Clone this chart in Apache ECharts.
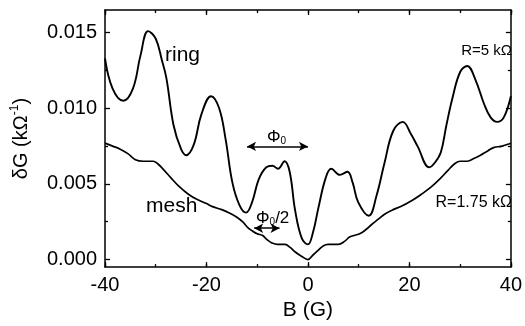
<!DOCTYPE html>
<html>
<head>
<meta charset="utf-8">
<script src="https://cdn.jsdelivr.net/npm/echarts@6/dist/echarts.min.js"></script>
<style>
  html, body { margin: 0; padding: 0; background: #fff; }
  #chart { width: 525px; height: 326px; }
</style>
</head>
<body>
<div id="chart"></div>
<script>
// Conductance oscillation delta-G versus magnetic field B
const ringB = [-40, -38.5, -36.4, -34.5, -33, -31.5, -30, -28.8, -27.9, -26.5, -25, -24, -22.5, -21, -19.1, -17.5, -16.2, -14.9, -13.5, -12.2, -11, -9.7, -8.2, -7, -5.9, -4.6, -3.6, -2.5, -1.2, 0, 1, 2.05, 3.5, 4.6, 6.3, 7.8, 8.8, 9.9, 12, 13.5, 15.1, 16.8, 18.7, 20.3, 21.6, 23.9, 25, 26.2, 27.3, 28.5, 30, 31.4, 33, 34.7, 36, 37.3, 38.6, 40];
const ringG = [0.0133, 0.0113, 0.0105, 0.0113, 0.0135, 0.0151, 0.0146, 0.0132, 0.0120, 0.0089, 0.0073, 0.0069, 0.0076, 0.0096, 0.0108, 0.0100, 0.0079, 0.0051, 0.0036, 0.0031, 0.0038, 0.0053, 0.0061, 0.0062, 0.0060, 0.0065, 0.0058, 0.0032, 0.0014, 0.0010, 0.0018, 0.0034, 0.0054, 0.0060, 0.0056, 0.0058, 0.0051, 0.0038, 0.0029, 0.0042, 0.0064, 0.0085, 0.0091, 0.0083, 0.0075, 0.0061, 0.0064, 0.0071, 0.0089, 0.0107, 0.0124, 0.0128, 0.0119, 0.0103, 0.0094, 0.0091, 0.0094, 0.0108];

const meshB = [-40, -38.5, -37, -35.5, -34, -32.5, -30.5, -29.5, -28.6, -27, -25.3, -23.5, -22, -20, -18.8, -17, -15.6, -14, -12.9, -11.8, -11, -10, -9, -8, -7.1, -6, -4.5, -3.5, -2.5, -1.2, 0, 1, 2, 3, 4, 6, 7.2, 8.3, 10.2, 11.5, 12.5, 14, 15.1, 16.8, 18.3, 20.5, 22.3, 24.3, 26.2, 27.6, 28.8, 30, 31.4, 32.8, 34, 35.5, 36.6, 38.3, 40];
const meshG = [0.0077, 0.0075, 0.0073, 0.0070, 0.0066, 0.0065, 0.0065, 0.0063, 0.0060, 0.0054, 0.0048, 0.0043, 0.0040, 0.0037, 0.0035, 0.0033, 0.0031, 0.0028, 0.0025, 0.0021, 0.0019, 0.0017, 0.0016, 0.0013, 0.0011, 0.0010, 0.0010, 0.0008, 0.0005, 0.0002, 0.0000, 0.0003, 0.0006, 0.0009, 0.0010, 0.0010, 0.0012, 0.0015, 0.0017, 0.0020, 0.0023, 0.0027, 0.0030, 0.0033, 0.0035, 0.0039, 0.0043, 0.0048, 0.0054, 0.0059, 0.0063, 0.0065, 0.0065, 0.0067, 0.0069, 0.0072, 0.0074, 0.0075, 0.0077];

const yMajorTicks = [0, 0.005, 0.010, 0.015];
const yMinorTicks = [0.0025, 0.0075, 0.0125];

// Flux-quantum period arrows (field span at a given delta-G level)
const phi0Span = [-12, 0];
const phi0Level = 0.00748;
const halfPhi0Span = [-10.6, -5.6];
const halfPhi0Level = 0.00207;

const FONT = '"Liberation Sans", Arial, Helvetica, sans-serif';
const ink = '#000';
const MAJOR = 5, MINOR = 3;

function pairs(xs, ys) { return xs.map((x, i) => [x, ys[i]]); }

const chart = echarts.init(document.getElementById('chart'), null, { renderer: 'canvas' });

const lineStyle = { color: ink, width: 1.5 };
const tickStyle = { color: ink, width: 1.3 };

// Frame axes: carry the border line (and labels on bottom/left), no ticks
function xFrame(pos, withLabels) {
  const ax = {
    type: 'value', min: -40, max: 40, interval: 20, position: pos,
    axisLine: { show: true, onZero: false, lineStyle },
    axisTick: { show: false },
    splitLine: { show: false },
    axisLabel: { show: withLabels, color: ink, fontSize: 20, fontFamily: FONT, margin: 8 }
  };
  if (withLabels) {
    ax.name = 'B (G)';
    ax.nameLocation = 'middle';
    ax.nameGap = 32;
    ax.nameTextStyle = { color: ink, fontSize: 21, fontFamily: FONT };
  }
  return ax;
}

// Tick-only axes, shifted into the plot so the ticks run inward from the frame
function xTicks(pos, interval, len) {
  return {
    type: 'value', min: -40, max: 40, interval, position: pos, offset: -len,
    axisLine: { show: false, onZero: false },
    axisTick: { show: true, inside: false, length: len, lineStyle: tickStyle },
    splitLine: { show: false },
    axisLabel: { show: false }
  };
}

function yFrame(pos, withLabels) {
  return {
    type: 'value', min: -0.0005, max: 0.0165, position: pos,
    axisLine: { show: true, onZero: false, lineStyle },
    axisTick: { show: false },
    splitLine: { show: false },
    axisLabel: withLabels ? {
      show: true, customValues: yMajorTicks, margin: 8,
      color: ink, fontSize: 20, fontFamily: FONT,
      formatter: v => v.toFixed(3)
    } : { show: false }
  };
}

function yTicks(pos, values, len) {
  return {
    type: 'value', min: -0.0005, max: 0.0165, position: pos, offset: -len,
    axisLine: { show: false, onZero: false },
    axisTick: { show: true, inside: false, length: len, customValues: values, lineStyle: tickStyle },
    splitLine: { show: false },
    axisLabel: { show: false }
  };
}

const option = {
  animation: false,
  backgroundColor: '#fff',
  grid: { left: 105, right: 11, top: 10, bottom: 52 },
  xAxis: [
    xFrame('bottom', true),
    xFrame('top', false),
    xTicks('bottom', 20, MAJOR),
    xTicks('bottom', 10, MINOR),
    xTicks('top', 20, MAJOR),
    xTicks('top', 10, MINOR)
  ],
  yAxis: [
    Object.assign(yFrame('left', true), {
      name: '{t|δG (kΩ}{s|-1}{t|)}',
      nameLocation: 'middle', nameRotate: 90, nameGap: 72,
      nameTextStyle: {
        color: ink, fontFamily: FONT,
        rich: {
          t: { fontSize: 20, fontFamily: FONT, color: ink, lineHeight: 24 },
          s: { fontSize: 12, fontFamily: FONT, color: ink, verticalAlign: 'top', lineHeight: 24, padding: [0, 0, 8, 0] }
        }
      }
    }),
    yFrame('right', false),
    yTicks('left', yMajorTicks, MAJOR),
    yTicks('left', yMinorTicks, MINOR),
    yTicks('right', yMajorTicks, MAJOR),
    yTicks('right', yMinorTicks, MINOR)
  ],
  series: [
    {
      name: 'ring', type: 'line', xAxisIndex: 0, yAxisIndex: 0,
      data: pairs(ringB, ringG), smooth: 0.4, showSymbol: false,
      lineStyle: { color: ink, width: 1.9 },
      markLine: {
        silent: true, symbol: ['arrow', 'arrow'], symbolSize: [7, 9],
        lineStyle: { color: ink, width: 1.5, type: 'solid' },
        label: { show: false },
        data: [
          [{ coord: [phi0Span[0], phi0Level] }, { coord: [phi0Span[1], phi0Level] }],
          [{ coord: [halfPhi0Span[0], halfPhi0Level] }, { coord: [halfPhi0Span[1], halfPhi0Level] }]
        ]
      }
    },
    {
      name: 'mesh', type: 'line', xAxisIndex: 0, yAxisIndex: 0,
      data: pairs(meshB, meshG), smooth: 0.4, showSymbol: false,
      lineStyle: { color: ink, width: 1.7 }
    }
  ],
  graphic: [
    { type: 'text', left: 165, top: 45, style: { text: 'ring', font: '21px ' + FONT, fill: ink } },
    { type: 'text', left: 146, top: 196, style: { text: 'mesh', font: '21px ' + FONT, fill: ink } },
    { type: 'text', right: 13, top: 43, style: { text: 'R=5 kΩ', font: '15px ' + FONT, fill: ink } },
    { type: 'text', right: 13, top: 195, style: { text: 'R=1.75 kΩ', font: '16px ' + FONT, fill: ink } },
    { type: 'text', left: 267, top: 129, style: {
        text: '{p|Φ}{s|0}', font: '17px ' + FONT, fill: ink,
        rich: { p: { fontSize: 17, fontFamily: FONT, fill: ink, lineHeight: 20, verticalAlign: 'bottom' },
                s: { fontSize: 10, fontFamily: FONT, fill: ink, lineHeight: 20, verticalAlign: 'bottom', padding: [6, 0, 0, 0] } } } },
    { type: 'text', left: 256, top: 210, style: {
        text: '{p|Φ}{s|0}{p|/2}', font: '17px ' + FONT, fill: ink,
        rich: { p: { fontSize: 17, fontFamily: FONT, fill: ink, lineHeight: 20, verticalAlign: 'bottom' },
                s: { fontSize: 10, fontFamily: FONT, fill: ink, lineHeight: 20, verticalAlign: 'bottom', padding: [6, 0, 0, 0] } } } }
  ]
};

chart.setOption(option);
</script>
</body>
</html>
